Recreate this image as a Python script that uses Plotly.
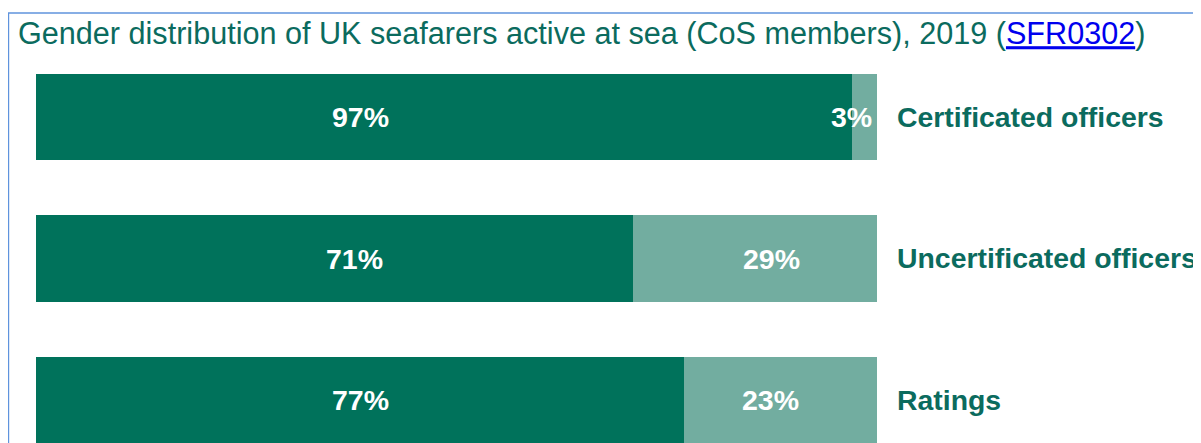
import plotly.graph_objects as go

categories = ["Certificated officers", "Uncertificated officers", "Ratings"]
male_pct = [97, 71, 77]
female_pct = [3, 29, 23]

DARK = "#00725B"
LIGHT = "#72ADA0"
TEAL_TEXT = "#0B6B5E"
FONT = "Arial, 'Liberation Sans', sans-serif"

# page body has an 8px default margin; work in figure pixels
OFF = 8
W, H = 1201, 443
ML, MR, MT, MB = 36 - OFF, W - (877 - OFF), 74 - OFF - 14, H - (443 - OFF)
plot_w = W - ML - MR
plot_h = H - MT - MB

fig = go.Figure()
fig.add_trace(go.Bar(y=categories, x=male_pct, orientation="h", marker=dict(color=DARK, line=dict(width=0)),
                     width=0.61, name="Male", hoverinfo="x+y"))
fig.add_trace(go.Bar(y=categories, x=female_pct, orientation="h", marker=dict(color=LIGHT, line=dict(width=0)),
                     width=0.61, name="Female", hoverinfo="x+y"))

# label placement (x in axis %, anchor)
first_label_x = [38.6, 37.9, 38.6]
second_label_x = [99.6, 87.4, 87.3]
second_anchor = ["right", "center", "center"]
for i, cat in enumerate(categories):
    fig.add_annotation(x=first_label_x[i], y=cat, text=f"<b>{male_pct[i]}%</b>", showarrow=False,
                       xanchor="center", yanchor="middle",
                       font=dict(family=FONT, size=28.5, color="white"))
    fig.add_annotation(x=second_label_x[i], y=cat, text=f"<b>{female_pct[i]}%</b>", showarrow=False,
                       xanchor=second_anchor[i], yanchor="middle",
                       font=dict(family=FONT, size=28.5, color="white"))

# frame (left and top edges visible)
px_to_paper_x = lambda px: (px - OFF - ML) / plot_w
px_to_paper_y = lambda py: (H - MB - (py - OFF)) / plot_h
fig.add_shape(type="line", xref="paper", yref="paper", layer="above",
              x0=px_to_paper_x(8.5), x1=px_to_paper_x(8.5),
              y0=px_to_paper_y(480), y1=px_to_paper_y(13),
              line=dict(color="#5F93DD", width=1.4))
fig.add_shape(type="line", xref="paper", yref="paper", layer="above",
              x0=px_to_paper_x(8), x1=px_to_paper_x(1260),
              y0=px_to_paper_y(13), y1=px_to_paper_y(13),
              line=dict(color="#5F93DD", width=1.4))

title = ("Gender distribution of UK seafarers active at sea (CoS members), 2019 "
         "(<a href='https://www.gov.uk/government/statistical-data-sets/seafarers-statistics-sfr03'>"
         "<span style='color:#0000EE'><u>SFR0302</u></span></a>)")

# y range: bar centres at 117/258/400 px (page), 141.5 px per category
unit = 141.5
top_val = -(117 - 60) / unit
bot_val = 2 + (443 - 400) / unit

fig.update_layout(
    width=W, height=H,
    margin=dict(l=ML, r=MR, t=MT, b=MB, pad=0),
    barmode="stack",
    showlegend=False,
    plot_bgcolor="white", paper_bgcolor="white",
    title=dict(text=title, x=(18 - OFF) / W, xanchor="left", xref="container",
               y=1 - (33.5 - OFF) / H, yanchor="middle", yref="container",
               font=dict(family=FONT, size=30.6, color=TEAL_TEXT)),
    xaxis=dict(range=[0, 100], showgrid=False, zeroline=False, showticklabels=False, showline=False, fixedrange=True),
    yaxis=dict(range=[bot_val, top_val], type="category", side="right", showgrid=False, zeroline=False,
               showline=False, ticks="", ticklabelstandoff=19,
               tickfont=dict(family=FONT, size=28.4, color=TEAL_TEXT, weight="bold"), fixedrange=True),
)

fig.write_html("out.html")
